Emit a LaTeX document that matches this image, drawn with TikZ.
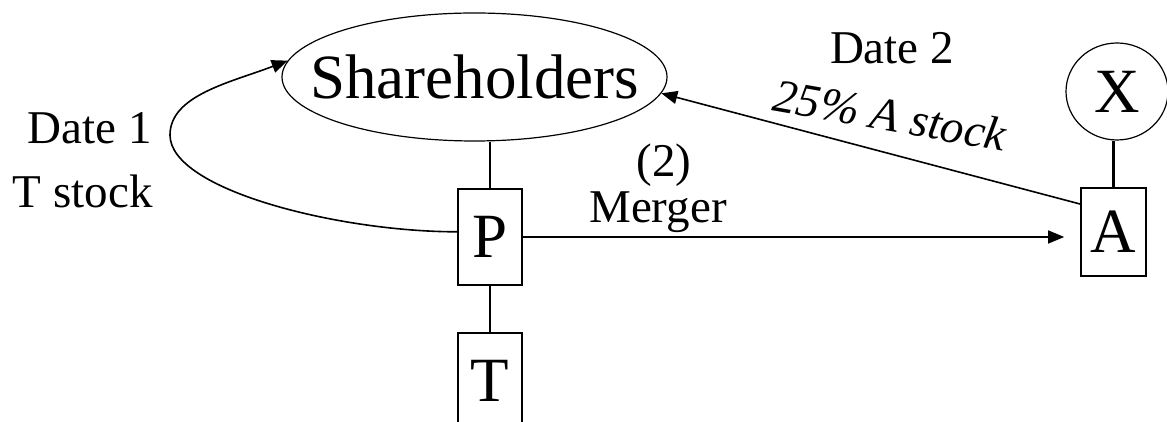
\documentclass[tikz,border=0pt]{standalone}
\usepackage{fontspec}
\setmainfont{Liberation Serif}
\usetikzlibrary{shapes.geometric,arrows.meta}
\begin{document}
\begin{tikzpicture}[x=0.5pt,y=0.5pt,
  box/.style={draw, line width=0.8pt, minimum width=32pt, minimum height=48pt,
    inner sep=0pt, font=\fontsize{31.5}{36}\selectfont},
  oval/.style={draw, ellipse, line width=0.6pt, inner xsep=-16pt, inner ysep=0pt,
    font=\fontsize{31.5}{36}\selectfont},
  lbl/.style={inner sep=0pt, font=\fontsize{23.5}{28}\selectfont},
  link/.style={line width=1.2pt},
  flow/.style={-{Triangle[length=8pt,width=6.5pt]}, line width=0.8pt}]
  \useasboundingbox (0,0) rectangle (1167,422);
  % holders and companies
  \node[oval, minimum width=192.5pt, minimum height=64pt] (sh) at (474.5,345) {Shareholders};
  \node[oval, minimum width=51pt, minimum height=48.5pt] (X) at (1117,330.5) {X};
  \node[box] (P) at (490,185) {P};
  \node[box] (T) at (490,41) {T};
  \node[box, minimum width=32.5pt, minimum height=44pt] (A) at (1113.5,190) {A};
  % ownership lines
  \draw[link] (P.north) -- (P.north |- sh.south);
  \draw[link] (P.south) -- (T.north);
  \draw[link] (A.north) -- (A.north |- X.south);
  % transfers
  \coordinate (loopL) at (170,287);
  \draw[flow] (P.171) to[out=180, in=270, out distance=59pt, in distance=27.5pt] (loopL)
    to[out=90, in=201, out distance=20pt, in distance=30pt] (sh.175);
  \draw[flow, shorten >=8pt] (P.east) -- (P.east -| A.west);
  \draw[flow] (A.140) -- (sh.-5);
  % labels
  \node[lbl, anchor=base east] (d1) at (152,278) {Date 1};
  \node[lbl, anchor=base east] (ts) at (153,214) {T stock};
  \node[lbl, anchor=base] (d2) at (892,358) {Date 2};
  \node[lbl, anchor=base, rotate=-10, font=\fontsize{23.5}{28}\selectfont\itshape] (as) at (887.5,291) {25\% A stock};
  \node[lbl, anchor=base] (two) at (664,245) {(2)};
  \node[lbl, anchor=base] (mg) at (658,199) {Merger};
\end{tikzpicture}
\end{document}
